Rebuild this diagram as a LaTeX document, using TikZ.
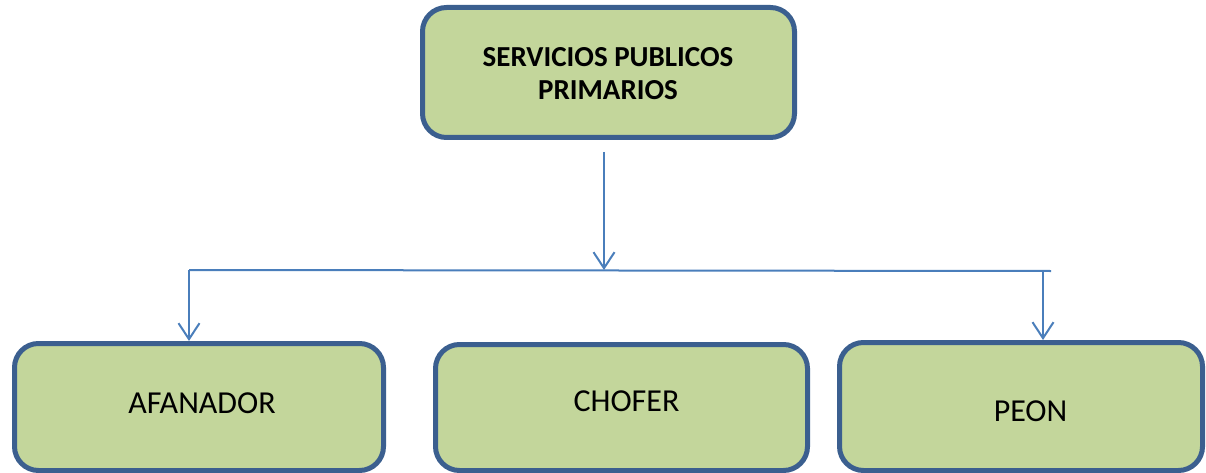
\documentclass[tikz,border=0pt]{standalone}
\usepackage{fontspec}
\setmainfont{Carlito}
\usetikzlibrary{arrows.meta}
\definecolor{boxfill}{HTML}{C3D69B}
\definecolor{boxline}{HTML}{3B5F8F}
\definecolor{conn}{HTML}{4A7EBB}
\tikzset{
  box/.style={draw=boxline, fill=boxfill, line width=5pt, rounded corners=24pt, inner sep=0pt},
  lbl/.style={anchor=base, inner sep=0pt, font=\fontsize{32}{38}\selectfont},
  blbl/.style={anchor=base, inner sep=0pt, font=\fontsize{29}{33}\selectfont\bfseries},
  conline/.style={draw=conn, line width=2pt},
  arr/.style={conline, -{Straight Barb[length=16pt,width=21pt,line width=2pt]}},
}
\begin{document}
\begin{tikzpicture}[x=1pt,y=1pt]
\useasboundingbox (0,0) rectangle (1206,-473);
% boxes (centre-line geometry)
\node[box, minimum width=372pt, minimum height=130pt] (top) at (608.5,-72.5) {};
\node[box, minimum width=369pt, minimum height=127pt] (afan) at (199,-407) {};
\node[box, minimum width=372pt, minimum height=126pt] (chof) at (621.5,-407.5) {};
\node[box, minimum width=363pt, minimum height=128pt] (peon) at (1021,-406.5) {};
% labels
\node[blbl] (t1) at (608,-67) {SERVICIOS PUBLICOS};
\node[blbl] (t2) at (608,-100) {PRIMARIOS};
\node[lbl] (l1) at (202,-413) {AFANADOR};
\node[lbl] (l2) at (626.5,-411) {CHOFER};
\node[lbl] (l3) at (1030.5,-421) {PEON};
% connectors
\coordinate (s) at (604,-152);
\coordinate (j) at (604,-270);
\coordinate (hl) at (189,-270);
\coordinate (hr) at (1051,-271);
\coordinate (pr) at (1043,-271);
\draw[arr] (s) -- (j);
\draw[conline] (hl) -- (hr);
\draw[arr] (hl) -- (hl |- afan.north);
\draw[arr] (pr) -- (pr |- peon.north);
\end{tikzpicture}
\end{document}
